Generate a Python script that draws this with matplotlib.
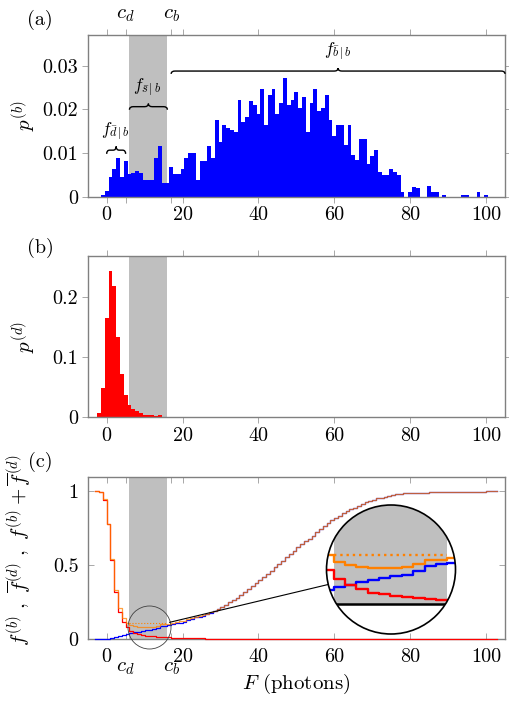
import numpy as np
import matplotlib
matplotlib.use("Agg")
import matplotlib.pyplot as plt
from matplotlib.path import Path
from matplotlib.patches import PathPatch, Circle, ConnectionPatch

plt.rcParams['font.family'] = 'cmr10'
plt.rcParams['mathtext.fontset'] = 'cm'
plt.rcParams['axes.formatter.use_mathtext'] = True
plt.rcParams['font.size'] = 14.5

# p^(b) per photon bin, in units of 1e-3, bins F = -3 .. 103
p_b_milli = [0, 0, 0.3, 1.2, 4.4, 6.3, 8.8, 4.4, 8.2, 5.1,          # -3..6
             5.5, 5.9, 5.5, 3.8, 3.8, 3.8, 8.8, 11.5, 3.2, 3.2,     # 7..16
             6.9, 5.1, 5.1, 6.3, 8.8, 10.1, 10.1, 3.8, 8.2, 8.2,    # 17..26
             11.5, 8.8, 17.6, 12.6, 16.4, 15.8, 15.3, 14.7, 22.1, 17.0,  # 27..36
             18.3, 22.0, 21.0, 18.9, 24.6, 16.4, 23.3, 24.6, 18.9, 21.4,  # 37..46
             27.1, 21.0, 22.1, 23.9, 20.2, 22.7, 14.7, 21.5, 24.6, 19.5,  # 47..56
             20.2, 23.3, 17.6, 13.9, 16.4, 16.4, 11.8, 16.4, 9.5, 8.4,    # 57..66
             13.1, 13.1, 7.5, 9.2, 10.7, 5.7, 5.0, 5.0, 6.3, 5.7,         # 67..76
             5.0, 1.1, 0, 1.1, 2.3, 1.9, 0, 0, 2.5, 1.1,                  # 77..86
             1.1, 0, 0.5, 0, 0, 0, 0, 0.5, 0.5, 0,                        # 87..96
             0, 1.1, 0, 0.5, 0, 0, 0]                                     # 97..103

# p^(d) per photon bin, in units of 1e-3, bins F = -3 .. 30 (zero after)
p_d_milli = [0, 6.6, 48, 165, 243, 218, 133, 71, 37, 21,
             13, 10, 7, 4, 3, 3, 2, 3, 1, 0.8,
             0.8, 0.8, 0.8, 0.6, 0.6, 0.6, 0.6, 0.6, 0.6, 1.2,
             1.2, 0.6, 0.6, 0.6]

F = np.arange(-3, -3 + len(p_b_milli))
p_b = np.array(p_b_milli) / 1000
p_d = np.pad(np.array(p_d_milli), (0, len(F) - len(p_d_milli))) / 1000

c_d, c_b = 5, 17
band = (6, 16)
spy = (11.05, 0.079)

f_b = np.cumsum(p_b) / p_b.sum()
fbar_d = 1 - np.cumsum(p_d) / p_d.sum()
f_sum = f_b + fbar_d
dotted_level = f_sum[F == c_d][0]

BLUE, RED, ORANGE = '#0000ff', '#ff0000', '#ff8000'
GRAY = '#bfbfbf'
SPINE = '#808080'
TICK = '#a8a8a8'


def brace(ax, x0, x1, y, h, r=1.0, lw=1.0):
    xm = (x0 + x1) / 2
    ym = y + h / 2
    verts = [(x0, y), (x0, ym), (x0 + r, ym),
             (xm - r, ym),
             (xm, ym), (xm, y + h),
             (xm, ym), (xm + r, ym),
             (x1 - r, ym),
             (x1, ym), (x1, y)]
    codes = [Path.MOVETO, Path.CURVE3, Path.CURVE3,
             Path.LINETO,
             Path.CURVE3, Path.CURVE3,
             Path.CURVE3, Path.CURVE3,
             Path.LINETO,
             Path.CURVE3, Path.CURVE3]
    ax.add_patch(PathPatch(Path(verts, codes), fc='none', ec='black',
                           lw=lw, clip_on=False, zorder=5))


def style(ax, direction):
    for s in ax.spines.values():
        s.set_color(SPINE)
        s.set_linewidth(1.0)
    pad = 2.5 if direction == 'out' else 6.5
    ax.tick_params(which='both', direction=direction, length=4.5, width=0.7,
                   color=TICK, top=True, right=True, pad=pad)
    ax.set_xlim(-5, 105)
    ax.set_xticks([0, 20, 40, 60, 80, 100])
    ax.set_xticklabels(['0', '20', '40', '60', '80', '100'])


W_PX, H_PX = 509, 702
L, W = 87.7 / W_PX, 417.3 / W_PX
fig = plt.figure(figsize=(W_PX / 100, H_PX / 100), dpi=100)
ax_a = fig.add_axes([L, 1 - 196.7 / H_PX, W, 161.7 / H_PX])
ax_b = fig.add_axes([L, 1 - 417.3 / H_PX, W, 161.3 / H_PX])
ax_c = fig.add_axes([L, 1 - 639.0 / H_PX, W, 162.3 / H_PX])

# ---- (a)
ax = ax_a
ax.axvspan(*band, color=GRAY, lw=0, zorder=0.5)
ax.bar(F, p_b, width=1, color=BLUE, lw=0, zorder=2)
ax.set_ylim(0, 0.037)
ax.set_yticks([0, 0.01, 0.02, 0.03])
ax.set_yticklabels(['0', '0.01', '0.02', '0.03'])
style(ax, 'out')
ax.set_xticks([c_d, c_b], minor=True)
for x, s in [(c_d, '$c_d$'), (c_b, '$c_b$')]:
    ax.text(x, 1.103, s, transform=ax.get_xaxis_transform(),
            ha='center', va='baseline', fontsize=15)
ax.set_ylabel('$p^{(b)}$', fontsize=15)
ax.yaxis.set_label_coords(-0.118, 0.5)
brace(ax, 0, c_d, 0.0098, 0.0017, r=0.8)
brace(ax, band[0], band[1], 0.0199, 0.0014, r=1.0)
brace(ax, c_b, 105, 0.0281, 0.0013, r=1.0)
ax.text(2.2, 0.0149, r'$f_{\bar{d}\,|\,b}$', ha='center', va='center', fontsize=12.5)
ax.text(10.6, 0.0250, r'$f_{\bar{s}\,|\,b}$', ha='center', va='center', fontsize=12.5)
ax.text(60.8, 0.0332, r'$f_{\bar{b}\,|\,b}$', ha='center', va='center', fontsize=12.5)

# ---- (b)
ax = ax_b
ax.axvspan(*band, color=GRAY, lw=0, zorder=0.5)
ax.bar(F, p_d, width=1, color=RED, lw=0, zorder=2)
ax.set_ylim(0, 0.2675)
ax.set_yticks([0, 0.1, 0.2])
ax.set_yticklabels(['0', '0.1', '0.2'])
style(ax, 'out')
ax.set_ylabel('$p^{(d)}$', fontsize=15)
ax.yaxis.set_label_coords(-0.118, 0.5)

# ---- (c)
ax = ax_c
ax.axvspan(*band, color=GRAY, lw=0, zorder=0.5)
ax.step(F, f_b, where='post', color=BLUE, lw=0.9, zorder=3, clip_on=False)
ax.step(F, fbar_d, where='post', color=RED, lw=0.9, zorder=3, clip_on=False)
ax.step(F, f_sum, where='post', color=ORANGE, lw=0.9, alpha=0.75, zorder=4)
ax.hlines(dotted_level, band[0], band[1], colors=ORANGE, lw=0.8,
          linestyles=':', zorder=4)
ax.set_ylim(0, 1.1)
ax.set_yticks([0, 0.5, 1])
ax.set_yticklabels(['0', '0.5', '1'])
style(ax, 'in')
ax.set_xticks([c_d, c_b], minor=True)
for x, s in [(c_d, '$c_d$'), (c_b, '$c_b$')]:
    ax.text(x, -0.197, s, transform=ax.get_xaxis_transform(),
            ha='center', va='baseline', fontsize=15)
ax.set_xlabel('$F$ (photons)', fontsize=15)
ax.xaxis.set_label_coords(0.5, -0.205)
ax.set_ylabel(r'$f^{(b)}\ ,\ \overline{f}^{(d)}\ ,\ f^{(b)}+\overline{f}^{(d)}$',
              fontsize=15)
ax.yaxis.set_label_coords(-0.128, 0.548)

# spy glass
R_SPY, MAG = 21.5, 3
R_BIG = R_SPY * MAG
big_c = (391.0, 569.5)
ax.plot([spy[0]], [spy[1]], 'o', ms=2 * R_SPY * 0.72, mfc='none',
        mec='#404040', mew=0.6, zorder=6, clip_on=False)

px_x = 417.3 / 110
px_y = 162.3 / 1.1
ins = fig.add_axes([(big_c[0] - R_BIG) / W_PX, 1 - (big_c[1] + R_BIG) / H_PX,
                    2 * R_BIG / W_PX, 2 * R_BIG / H_PX])
ins.set_xlim(spy[0] - R_BIG / (MAG * px_x), spy[0] + R_BIG / (MAG * px_x))
ins.set_ylim(spy[1] - R_BIG / (MAG * px_y), spy[1] + R_BIG / (MAG * px_y))
ins.axis('off')
clip = Circle((0.5, 0.5), 0.5, transform=ins.transAxes)
ins.add_patch(Circle((0.5, 0.5), 0.5, transform=ins.transAxes,
                     fc='white', ec='none', zorder=0))
arts = [ins.fill_between(list(band), 0, 2, color=GRAY, lw=0, zorder=1)]
arts.append(ins.axhline(0, color='black', lw=1.8, zorder=2))
arts += ins.step(F, f_b, where='post', color=BLUE, lw=1.7, zorder=3)
arts += ins.step(F, fbar_d, where='post', color=RED, lw=1.7, zorder=3)
arts += ins.step(F, f_sum, where='post', color=ORANGE, lw=1.7, zorder=4)
arts.append(ins.hlines(dotted_level, band[0], band[1], colors=ORANGE, lw=1.7,
                       linestyles=':', zorder=4))
for a in arts:
    a.set_clip_path(clip)
ins.add_patch(Circle((0.5, 0.5), 0.5, transform=ins.transAxes,
                     fc='none', ec='black', lw=1.2, zorder=10, clip_on=False))

con = ConnectionPatch(xyA=spy, coordsA=ax.transData,
                      xyB=(0.5, 0.5), coordsB=ins.transAxes,
                      arrowstyle='-', color='black', lw=0.8,
                      shrinkA=R_SPY * 0.72, shrinkB=R_BIG * 0.72)
fig.add_artist(con)

# panel tags
for y, s in [(20, '(a)'), (248, '(b)'), (462, '(c)')]:
    fig.text(40 / W_PX, 1 - y / H_PX, s, ha='center', va='center', fontsize=14.5)

fig.savefig('out.png', dpi=100)
